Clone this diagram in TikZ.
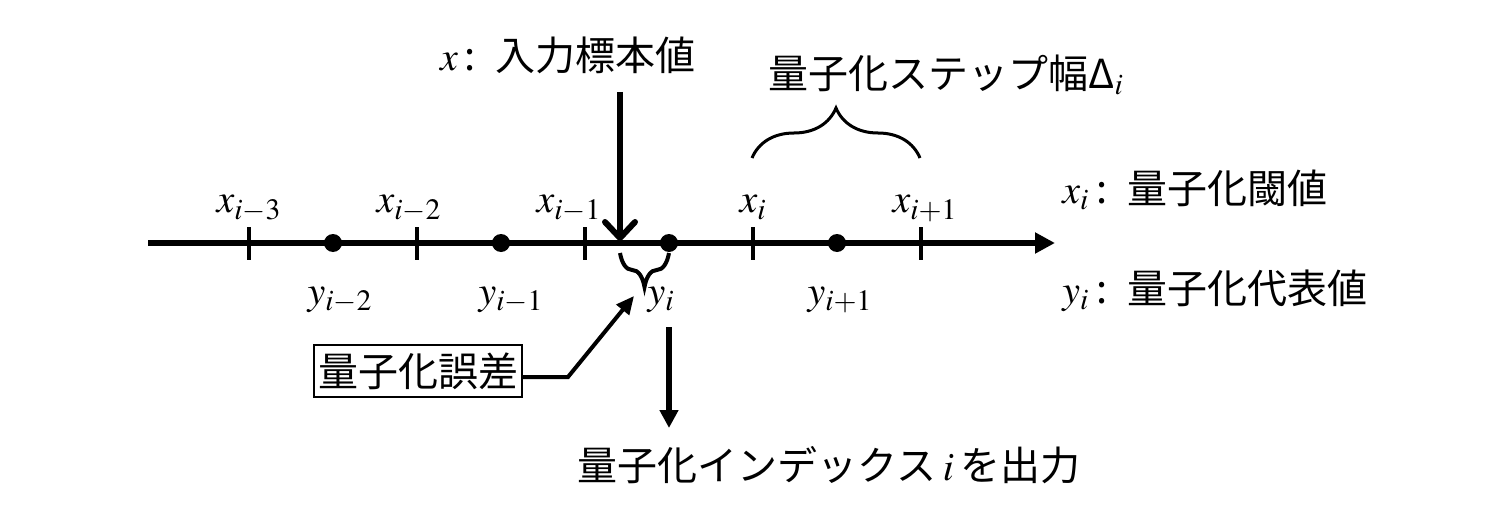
\documentclass[tikz,border=0pt]{standalone}
\usepackage{mathptmx}
\usepackage[no-math]{fontspec}
\setmainfont{Noto Sans CJK JP}
\usetikzlibrary{arrows.meta,decorations.pathreplacing}

\begin{document}
\begin{tikzpicture}
  [
     x=0.5pt, y=-0.5pt,
     every node/.style={font=\fontsize{20}{24}\selectfont,
                  inner sep=0pt},
     numline/.style={line width=3pt,
                  -{Triangle[length=10pt,width=10pt]}},
     tickmark/.style={line width=2pt},
     dotmark/.style={circle,
                  fill,
                  inner sep=0pt,
                  minimum size=9pt},
     stepbrace/.style={decorate,
                  decoration={brace, amplitude=#1},
                  line width=1.5pt},
     inarrow/.style={line width=3pt,
                  -{Straight Barb[length=8pt,width=15pt,round]}},
     outarrow/.style={line width=3pt,
                  -{Triangle[length=9pt,width=9pt]}},
     errline/.style={line width=2pt,
                  -{Triangle[length=9pt,width=8pt]}},
     errbox/.style={draw,
                  line width=1pt,
                  minimum width=104pt,
                  minimum height=26pt}
  ]
    \useasboundingbox (0,0) rectangle (1488,524);

    % number line
    \coordinate (lo) at (148,243);
    \coordinate (hi) at (1055,243);
    \draw[numline] (lo) -- (hi);

    % thresholds x_k
    \foreach \k/\s/\dx in {0/{i-3}/0,1/{i-2}/-8,2/{i-1}/-16,3/{i}/0,4/{i+1}/4}{
        \coordinate (t\k) at ({249+168*\k},243);
        \draw[tickmark] (t\k) ++(0,-16) -- ++(0,33);
        \node[anchor=base] (xl\k) at ({249+168*\k+\dx},213) {$x_{\s}$};
    }
    % representatives y_k
    \foreach \k/\s/\dx in {0/{i-2}/7,1/{i-1}/10,2/{i}/-8,3/{i+1}/3}{
        \node[dotmark] (d\k) at ({333+168*\k},243) {};
        \node[anchor=base] (yl\k) at ({333+168*\k+\dx},304) {$y_{\s}$};
    }

    % input sample
    \node (inp) at (568,55) {$x$\,:\enspace 入力標本値};
    \coordinate (xsrc) at (620,92);
    \coordinate (xhit) at (620,241);
    \draw[inarrow] (xsrc) -- (xhit);

    % step width
    \draw[stepbrace=25pt] (752,158) -- (920,158);
    \node (stepw) at (946,75) {量子化ステップ幅Δ$_i$};

    % error
    \draw[stepbrace=17pt,line width=2pt] (669,253) -- (620,253);
    \node[errbox] (err) at (418,371) {量子化誤差};
    \coordinate (bend) at (568,377);
    \coordinate (errtip) at (634,296);
    \draw[errline] (err.east |- bend) -- (bend) -- (errtip);

    % output index
    \coordinate (osrc) at (669,327);
    \coordinate (oend) at (669,428);
    \draw[outarrow] (osrc) -- (oend);
    \node (outlab) at (829,465) {量子化インデックス\,$i$\,を出力};

    % legend
    \node[anchor=base west] (xlab) at (1062,203) {$x_i$\,:\enspace 量子化閾値};
    \node[anchor=base west] (ylab) at (1062,303) {$y_i$\,:\enspace 量子化代表値};

\end{tikzpicture}
\end{document}
